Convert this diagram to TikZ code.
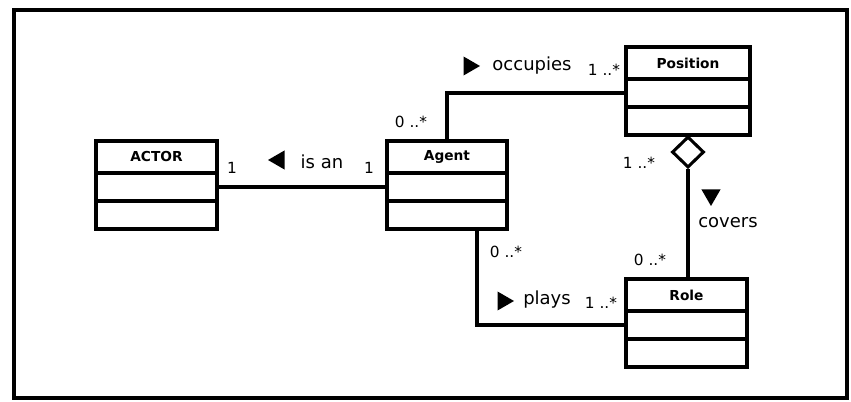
\documentclass[tikz,border=0pt]{standalone}
\usepackage{fontspec}
\setmainfont{DejaVu Sans}
\usetikzlibrary{positioning,shapes.geometric,calc}

\tikzset{
  head/.style={draw, line width=2.5pt, outer sep=0pt, inner sep=0pt,
    minimum height=24pt, font=\fontsize{10.3}{12}\selectfont\bfseries},
  part/.style={draw, line width=2.5pt, outer sep=0pt, inner sep=0pt,
    minimum height=21pt},
  link/.style={line width=2.3pt},
  mult/.style={font=\fontsize{11.5}{13}\selectfont},
  verb/.style={font=\fontsize{13.5}{16}\selectfont},
  dir/.style={regular polygon, regular polygon sides=3, fill,
    inner sep=0pt, minimum size=16.5pt},
}

\begin{document}
\begin{tikzpicture}[x=0.75pt, y=-0.75pt]
   \useasboundingbox (0,0) rectangle (851,402);
   \draw[line width=3.6pt] (14,10) rectangle (847,398);

   % classes
   \node[head, minimum width=90.75pt] (actor) at (156.5,157) {ACTOR};
   \node[part, minimum width=90.75pt, below=0pt of actor]  (actor1) {};
   \node[part, minimum width=90.75pt, below=0pt of actor1] (actor2) {};

   \node[head, minimum width=90pt] (agent) at (447,157) {Agent};
   \node[part, minimum width=90pt, below=0pt of agent]  (agent1) {};
   \node[part, minimum width=90pt, below=0pt of agent1] (agent2) {};

   \node[head, minimum width=93pt] (position) at (688,63) {Position};
   \node[part, minimum width=93pt, below=0pt of position]  (position1) {};
   \node[part, minimum width=93pt, below=0pt of position1] (position2) {};

   \node[head, minimum width=90.75pt] (role) at (686.5,295) {Role};
   \node[part, minimum width=90.75pt, below=0pt of role]  (role1) {};
   \node[part, minimum width=90.75pt, below=0pt of role1] (role2) {};

   % associations
   \draw[link] (actor1.east) -- (agent1.west);
   \draw[link] (agent.north) |- (position1.west);
   \draw[link] ($(agent2.south)+(30,0)$) |- (role1.west);

   \node[diamond, draw, line width=2.3pt, fill=white, inner sep=0pt,
     minimum width=24pt, minimum height=23.25pt, anchor=north] (agg) at (position2.south) {};
   \draw[link] (agg.south) -- (agg.south |- role.north);

   % reading directions
   \node[dir, shape border rotate=90]  (isanarrow) at (279,160) {};
   \node[dir, shape border rotate=-90] (occarrow)  at (469,66)  {};
   \node[dir, shape border rotate=180] (covarrow)  at (711,195) {};
   \node[dir, shape border rotate=-90] (playarrow) at (503,301) {};

   % names
   \node[verb] (isan)     at (322,162) {is an};
   \node[verb] (occupies) at (532,66)  {occupies};
   \node[verb] (covers)   at (728,223) {covers};
   \node[verb] (plays)    at (547,300) {plays};

   % multiplicities
   \node[mult] (m1) at (232,168) {1};
   \node[mult] (m2) at (369,168) {1};
   \node[mult] (m3) at (604,70)  {1 ..*};
   \node[mult] (m4) at (411,122) {0 ..*};
   \node[mult] (m5) at (639,163) {1 ..*};
   \node[mult] (m6) at (506,252) {0 ..*};
   \node[mult] (m7) at (650,260) {0 ..*};
   \node[mult] (m8) at (601,303) {1 ..*};
\end{tikzpicture}
\end{document}
